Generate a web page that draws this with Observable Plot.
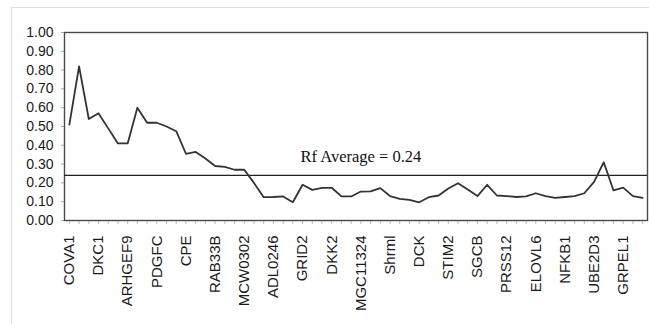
<!DOCTYPE html>
<html><head><meta charset="utf-8">
<script src="https://cdn.jsdelivr.net/npm/d3@7"></script>
<script src="https://cdn.jsdelivr.net/npm/@observablehq/plot@0.6"></script>
<style>
body{margin:0;background:#fff;}
#wrap{position:relative;width:649px;height:324px;overflow:hidden;}
#border{position:absolute;left:11px;top:7px;width:700px;height:400px;border:1px solid #ddd;}
#chart{position:absolute;left:0;top:0;}
</style></head><body><div id="wrap"><div id="border"></div><div id="chart"></div></div>
<script>
// tick labels (every third category is labelled)
const labels = ["COVA1","DKC1","ARHGEF9","PDGFC","CPE","RAB33B","MCW0302","ADL0246","GRID2","DKK2",
  "MGC11324","Shrml","DCK","STIM2","SGCB","PRSS12","ELOVL6","NFKB1","UBE2D3","GRPEL1"];
// Rf value per marker (60 markers)
const values = [0.51,0.82,0.54,0.57,0.49,0.41,0.41,0.60,0.52,0.52,
  0.50,0.475,0.355,0.365,0.33,0.29,0.285,0.27,0.27,0.20,
  0.124,0.125,0.128,0.097,0.19,0.163,0.174,0.174,0.128,0.128,
  0.154,0.155,0.172,0.13,0.115,0.11,0.097,0.124,0.133,0.17,
  0.198,0.165,0.13,0.19,0.133,0.13,0.125,0.128,0.145,0.13,
  0.12,0.125,0.13,0.145,0.205,0.31,0.16,0.175,0.13,0.12];
const avg = 0.24;
const yTicks = [0,0.1,0.2,0.3,0.4,0.5,0.6,0.7,0.8,0.9,1.0];
const n = values.length;

const chart = Plot.plot({
  width: 649, height: 324,
  marginLeft: 64, marginRight: 2, marginTop: 32, marginBottom: 104,
  style: {fontFamily: "'Liberation Sans', Arial, sans-serif", color: "#1a1a1a", background: "transparent"},
  x: {type: "linear", domain: [-0.5, n - 0.5]},
  y: {domain: [0, 1]},
  marks: [
    Plot.axisY({ticks: yTicks, tickFormat: d3.format(".2f"), tickSize: 3, tickPadding: 8, fontSize: 14, stroke: "#aaa", label: null}),
    Plot.axisX({ticks: d3.range(n), tickFormat: i => i % 3 === 0 ? labels[i / 3] : "", tickRotate: -90, tickSize: 4, tickPadding: 11, fontSize: 15, stroke: "#bbb", label: null}),
    Plot.frame({stroke: "#4a4a4a", strokeWidth: 1.4}),
    Plot.ruleY([avg], {stroke: "#222", strokeWidth: 1.3}),
    Plot.line(values, {x: (d, i) => i, y: d => d, stroke: "#333", strokeWidth: 1.8}),
    Plot.text([`Rf Average = ${avg.toFixed(2)}`], {x: 24, y: avg, text: d => d, dx: -2, dy: -18.5, textAnchor: "start",
      fontFamily: "'Liberation Serif', 'Times New Roman', serif", fontSize: 16.5, fill: "#111"})
  ]
});
document.getElementById("chart").appendChild(chart);
</script>
</body></html>
